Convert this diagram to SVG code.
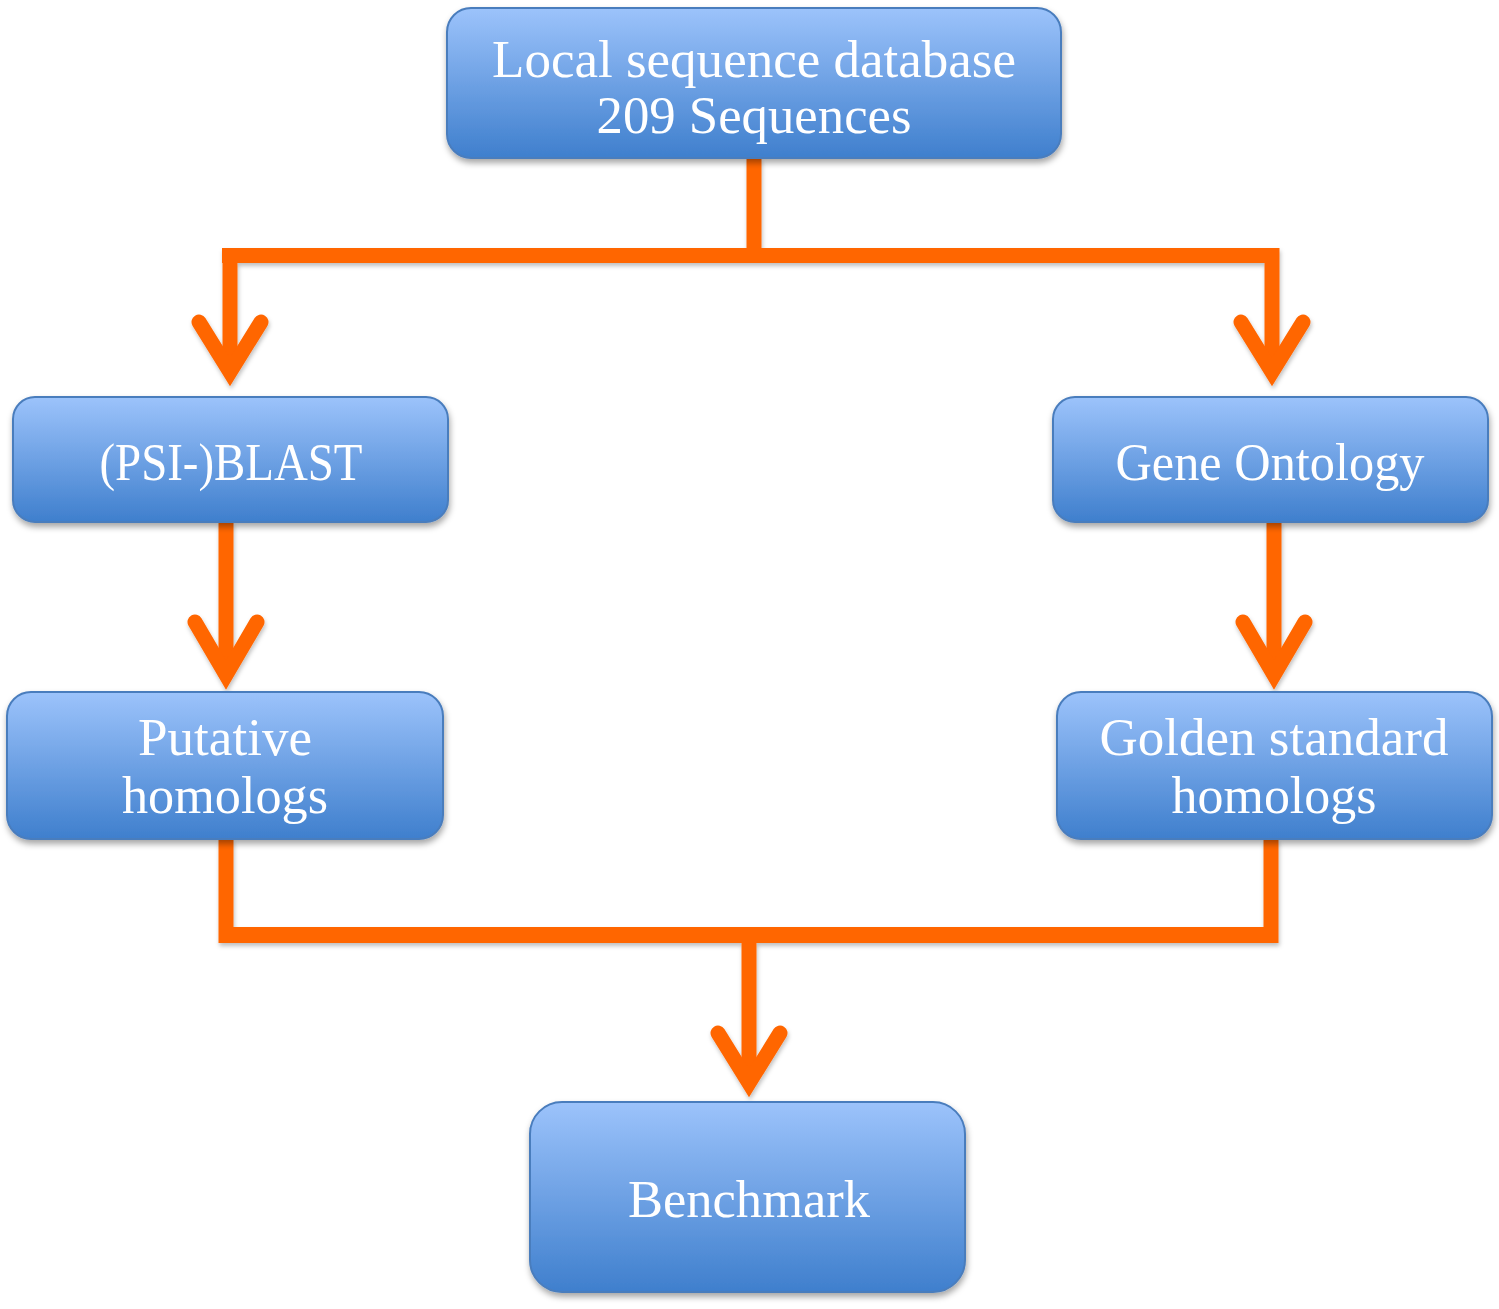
<svg xmlns="http://www.w3.org/2000/svg" width="1499" height="1309" viewBox="0 0 1499 1309">
<defs>
<linearGradient id="boxg" x1="0" y1="0" x2="0" y2="1">
<stop offset="0" stop-color="#9cc3fb"/>
<stop offset="1" stop-color="#3f7fcd"/>
</linearGradient>
<filter id="sh" x="-10%" y="-10%" width="120%" height="130%">
<feDropShadow dx="1" dy="4" stdDeviation="3" flood-color="#000" flood-opacity="0.35"/>
</filter>
<filter id="lsh" x="-10%" y="-10%" width="120%" height="130%">
<feDropShadow dx="1" dy="3" stdDeviation="2" flood-color="#000" flood-opacity="0.25"/>
</filter>
</defs>
<style>
.box{fill:url(#boxg);stroke:#4a7dbd;stroke-width:2;filter:url(#sh)}
.t{font-family:"Liberation Serif","DejaVu Serif",serif;font-size:52px;fill:#fff;text-anchor:middle}
.c{fill:none;stroke:#ff6600;stroke-width:15;stroke-linejoin:miter}
.ah{fill:none;stroke:#ff6600;stroke-width:15;stroke-linecap:round;stroke-linejoin:miter;stroke-miterlimit:6}
</style>
<rect width="1499" height="1309" fill="#fff"/>
<g id="connectors" filter="url(#lsh)">
<path class="c" d="M754,158 V256"/>
<path class="c" d="M222,255.5 H1278"/>
<path class="c" d="M230,248 V372"/>
<path class="c" d="M1272,248 V372"/>
<path class="ah" d="M199,322 L230,372 L261,322"/>
<path class="ah" d="M1241,322 L1272,372 L1303,322"/>
<path class="c" d="M226,522 V675"/>
<path class="ah" d="M195,622 L226,675 L257,622"/>
<path class="c" d="M1274,522 V675"/>
<path class="ah" d="M1243,622 L1274,675 L1305,622"/>
<path class="c" d="M226,839 V943"/>
<path class="c" d="M1271,839 V943"/>
<path class="c" style="stroke-width:16" d="M219,935 H1278"/>
<path class="c" d="M749,935 V1083"/>
<path class="ah" d="M718,1033 L749,1083 L780,1033"/>
</g>
<g id="node-db">
<rect class="box" x="447" y="8" width="614" height="150" rx="24"/>
<text class="t" x="754" y="77" textLength="524" lengthAdjust="spacingAndGlyphs">Local sequence database</text>
<text class="t" x="754" y="133" textLength="315" lengthAdjust="spacingAndGlyphs">209 Sequences</text>
</g>
<g id="node-blast">
<rect class="box" x="13" y="397" width="435" height="125" rx="22"/>
<text class="t" x="231" y="480" textLength="263" lengthAdjust="spacingAndGlyphs">(PSI-)BLAST</text>
</g>
<g id="node-go">
<rect class="box" x="1053" y="397" width="435" height="125" rx="22"/>
<text class="t" x="1270" y="480" textLength="309" lengthAdjust="spacingAndGlyphs">Gene Ontology</text>
</g>
<g id="node-putative">
<rect class="box" x="7" y="692" width="436" height="147" rx="24"/>
<text class="t" x="225" y="755" textLength="174" lengthAdjust="spacingAndGlyphs">Putative</text>
<text class="t" x="225" y="813" textLength="206" lengthAdjust="spacingAndGlyphs">homologs</text>
</g>
<g id="node-golden">
<rect class="box" x="1057" y="692" width="435" height="147" rx="24"/>
<text class="t" x="1274" y="755" textLength="349" lengthAdjust="spacingAndGlyphs">Golden standard</text>
<text class="t" x="1274" y="813" textLength="205" lengthAdjust="spacingAndGlyphs">homologs</text>
</g>
<g id="node-benchmark">
<rect class="box" x="530" y="1102" width="435" height="190" rx="32"/>
<text class="t" x="749" y="1217" textLength="242" lengthAdjust="spacingAndGlyphs">Benchmark</text>
</g>
</svg>
